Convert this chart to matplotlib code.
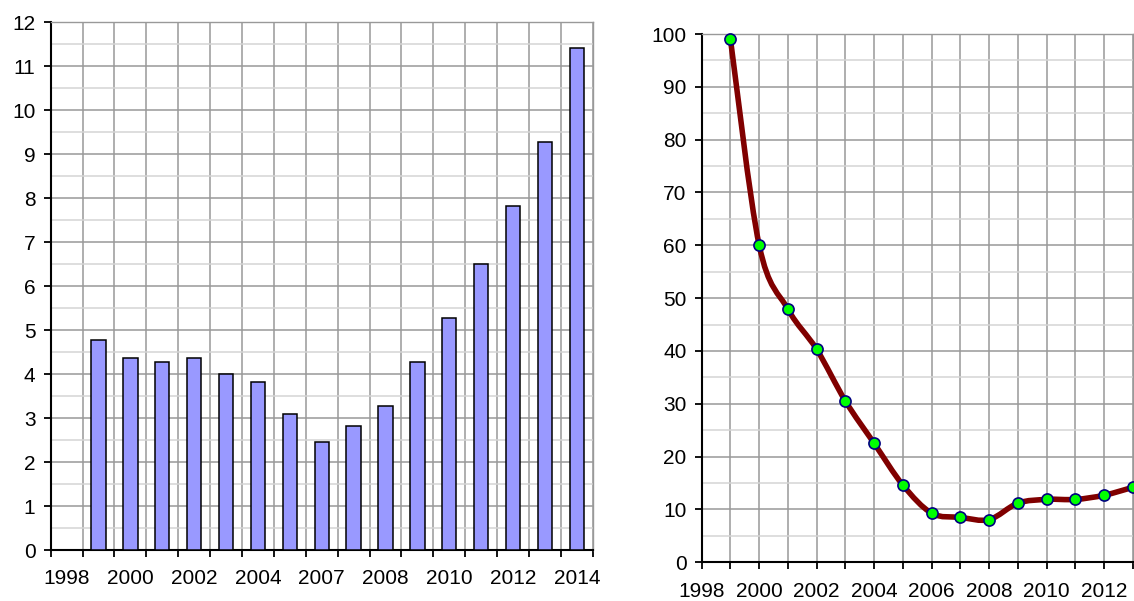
import numpy as np
import matplotlib
matplotlib.use("Agg")
import matplotlib.pyplot as plt
from matplotlib.path import Path
from matplotlib.patches import PathPatch

plt.rcParams['font.family'] = ['Liberation Sans', 'DejaVu Sans']

# left chart: one slot per year, 1998 slot is empty
bar_years = [1998, 1999, 2000, 2001, 2002, 2003, 2004, 2005, 2006, 2007,
             2008, 2009, 2010, 2011, 2012, 2013, 2014]
bar_values = [np.nan, 4.77, 4.36, 4.27, 4.36, 4.0, 3.82, 3.09, 2.45, 2.82,
              3.27, 4.27, 5.27, 6.49, 7.81, 9.27, 11.4]
bar_labels = ["1998", "2000", "2002", "2004", "2007", "2008", "2010", "2012", "2014"]

# right chart
line_years = [1999, 2000, 2001, 2002, 2003, 2004, 2005, 2006, 2007,
              2008, 2009, 2010, 2011, 2012, 2013]
line_values = [99, 60, 47.9, 40.3, 30.5, 22.5, 14.6, 9.3, 8.5,
               8.1, 11.2, 11.9, 11.9, 12.7, 14.2]
line_labels = ["1998", "", "2000", "", "2002", "", "2004", "", "2006", "",
               "2008", "", "2010", "", "2012", ""]

W, H = 1134, 601
fig = plt.figure(figsize=(W / 100, H / 100), dpi=100)

major_grid = '#999999'
minor_grid = '#d4d4d4'
FS = 15


def style_axes(ax):
    ax.set_axisbelow(True)
    for s in ['top', 'right']:
        ax.spines[s].set_color(major_grid)
        ax.spines[s].set_linewidth(1.0)
    for s in ['left', 'bottom']:
        ax.spines[s].set_color('black')
        ax.spines[s].set_linewidth(1.5)
    ax.tick_params(axis='both', which='major', direction='out', length=5,
                   width=1.3, color='black', labelsize=FS)
    ax.tick_params(axis='y', which='major', pad=6)
    ax.tick_params(axis='x', which='major', pad=9)
    ax.tick_params(axis='both', which='minor', length=0)
    ax.grid(True, which='major', color=major_grid, linewidth=1.1)
    ax.grid(True, which='minor', axis='y', color=minor_grid, linewidth=1.1)


# ---- left: bars ----
ax1 = fig.add_axes([50.7 / W, 1 - 550 / H, (592.7 - 50.7) / W, (550 - 22) / H])
n = len(bar_years)
pos = np.arange(n)
ax1.bar(pos + 0.5, bar_values, width=0.45, color='#9999ff',
        edgecolor='black', linewidth=1.1, zorder=3)
ax1.set_xlim(0, n)
ax1.set_ylim(0, 12)
ax1.set_xticks(np.arange(n + 1))
ax1.set_xticklabels([])
ax1.set_xticks(np.arange(0, n, 2) + 0.5, minor=True)
ax1.set_xticklabels(bar_labels, minor=True)
ax1.set_yticks(np.arange(0, 13, 1))
ax1.set_yticks(np.arange(0.5, 12, 1), minor=True)
style_axes(ax1)
ax1.tick_params(axis='x', which='minor', labelsize=FS, pad=14)
ax1.grid(False, which='minor', axis='x')

# ---- right: smooth line ----
ax2 = fig.add_axes([701.7 / W, 1 - 562.3 / H, (1133 - 701.7) / W, (562.3 - 34) / H])
ax2.set_xlim(1998, 2013)
ax2.set_ylim(0, 100)
ax2.set_xticks(np.arange(1998, 2014, 1))
ax2.set_xticklabels(line_labels)
ax2.set_yticks(np.arange(0, 101, 10))
ax2.set_yticks(np.arange(5, 100, 10), minor=True)
style_axes(ax2)
ax2.tick_params(axis='x', which='major', pad=9)

# smoothed curve (catmull-rom style bezier through the points)
px = np.array(line_years, dtype=float)
py = np.array(line_values, dtype=float)
verts = [(px[0], py[0])]
codes = [Path.MOVETO]
m = len(px)
for i in range(m - 1):
    i0 = max(i - 1, 0)
    i3 = min(i + 2, m - 1)
    c1 = (px[i] + (px[i + 1] - px[i0]) / 6, py[i] + (py[i + 1] - py[i0]) / 6)
    c2 = (px[i + 1] - (px[i3] - px[i]) / 6, py[i + 1] - (py[i3] - py[i]) / 6)
    verts += [c1, c2, (px[i + 1], py[i + 1])]
    codes += [Path.CURVE4, Path.CURVE4, Path.CURVE4]
curve = PathPatch(Path(verts, codes), facecolor='none', edgecolor='#800000',
                  linewidth=4.0, capstyle='round', joinstyle='round', zorder=3)
ax2.add_patch(curve)
ax2.plot(line_years, line_values, linestyle='none', marker='o', markersize=8,
         markerfacecolor='#00ff00', markeredgecolor='#000080',
         markeredgewidth=1.2, zorder=4, clip_on=False)

fig.savefig('out.png', dpi=100)
